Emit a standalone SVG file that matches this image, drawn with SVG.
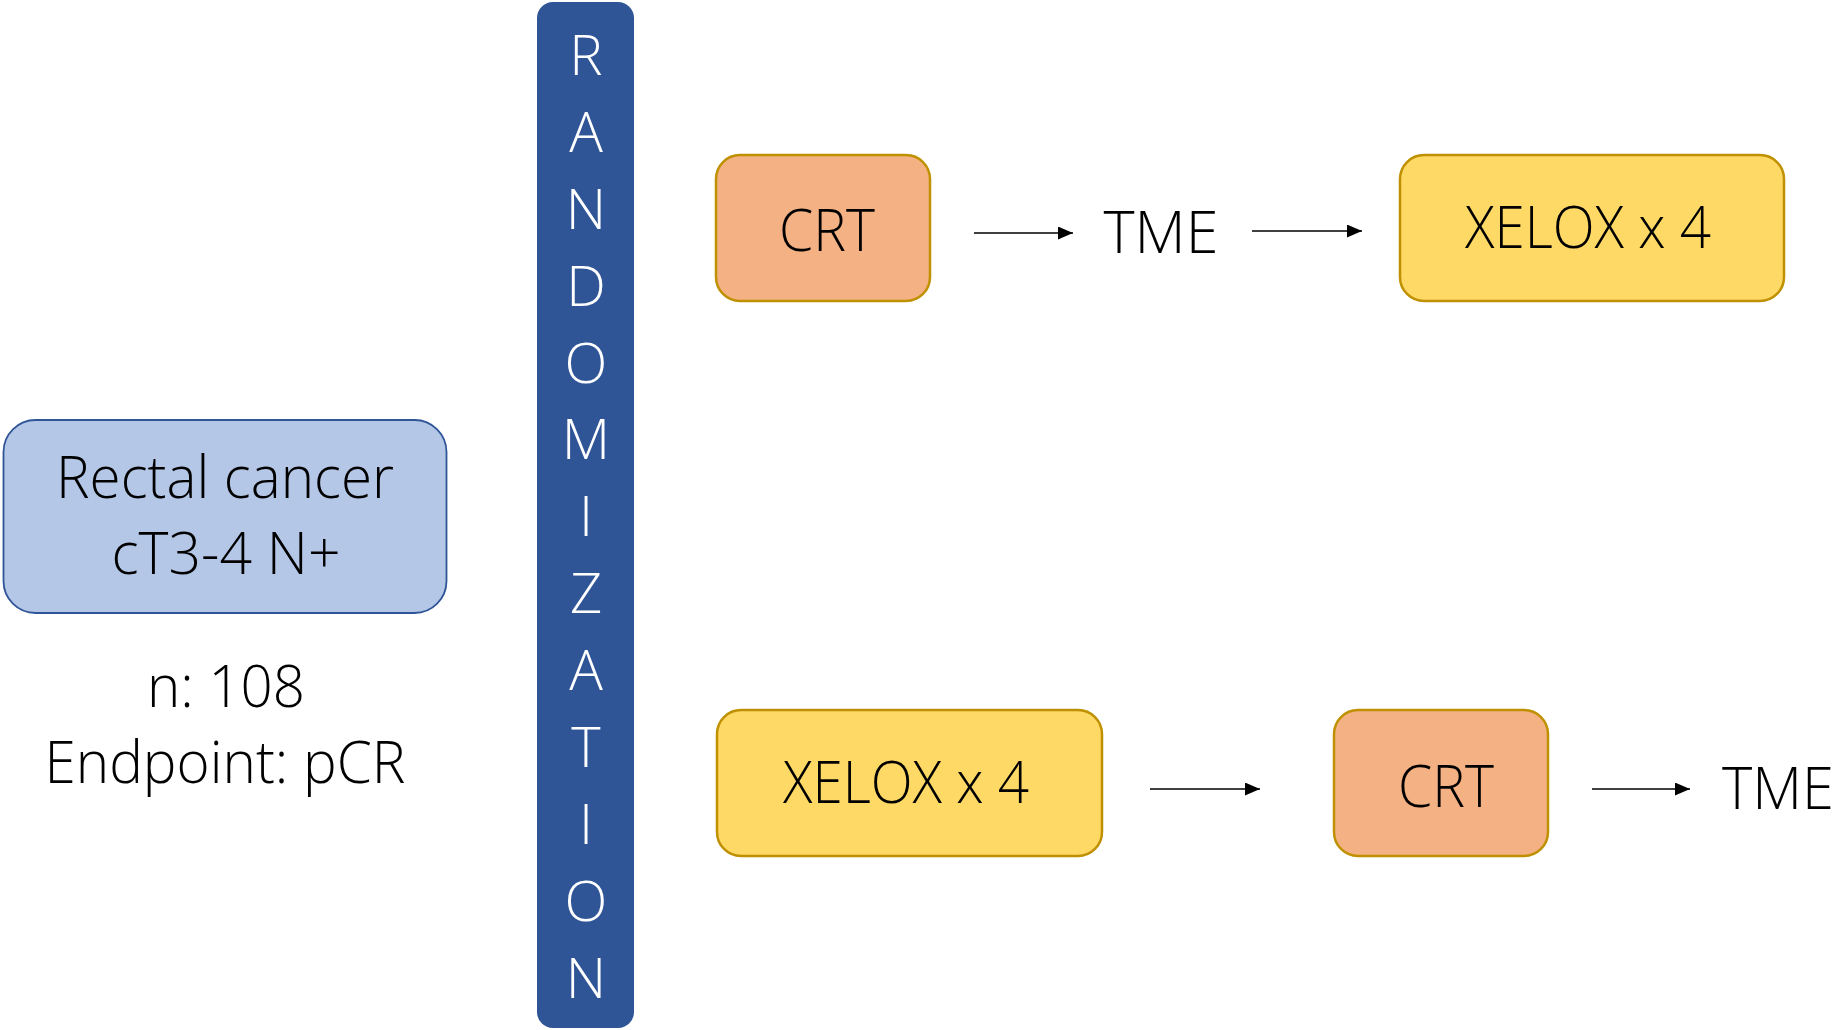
<svg xmlns="http://www.w3.org/2000/svg" width="1838" height="1030" viewBox="0 0 1838 1030">
<defs>
<style>
.t{font-family:"Open Sans","Liberation Sans",sans-serif;font-weight:300;font-size:58px;fill:#000;text-anchor:middle}
.r{font-family:"Open Sans","Liberation Sans",sans-serif;font-weight:300;font-size:56px;fill:#fff;text-anchor:middle}
.orange{fill:#F4B183;stroke:#BF9000;stroke-width:2.5}
.yellow{fill:#FFD966;stroke:#BF9000;stroke-width:2.5}
.conn{stroke:#000;stroke-width:1.6;fill:none;marker-end:url(#ah)}
</style>
<marker id="ah" markerUnits="userSpaceOnUse" markerWidth="16" markerHeight="14" refX="15" refY="6.5" orient="auto">
<path d="M0,0 L15,6.5 L0,13 Z" fill="#000"/>
</marker>
</defs>
<rect width="1838" height="1030" fill="#fff"/>

<g id="population">
<rect x="3.5" y="420" width="443" height="193" rx="32" fill="#B4C7E7" stroke="#2F5597" stroke-width="1.8"/>
<text class="t" x="225" y="498" textLength="338" lengthAdjust="spacingAndGlyphs">Rectal cancer</text>
<text class="t" x="226" y="574" textLength="229" lengthAdjust="spacingAndGlyphs">cT3-4 N+</text>
</g>
<g id="stats">
<text class="t" x="226" y="707" textLength="158" lengthAdjust="spacingAndGlyphs">n: 108</text>
<text class="t" x="225" y="783" textLength="361" lengthAdjust="spacingAndGlyphs">Endpoint: pCR</text>
</g>

<g id="randomization">
<rect x="537" y="2" width="97" height="1026" rx="16" fill="#2F5597"/>
<text class="r" x="586" y="75">R</text>
<text class="r" x="586" y="152">A</text>
<text class="r" x="586" y="229">N</text>
<text class="r" x="586" y="306">D</text>
<text class="r" x="586" y="383">O</text>
<text class="r" x="586" y="459">M</text>
<text class="r" x="586" y="536">I</text>
<text class="r" x="586" y="613">Z</text>
<text class="r" x="586" y="690">A</text>
<text class="r" x="586" y="767">T</text>
<text class="r" x="586" y="844">I</text>
<text class="r" x="586" y="921">O</text>
<text class="r" x="586" y="998">N</text>
</g>

<g id="crt-top">
<rect class="orange" x="716" y="155" width="214" height="146" rx="24"/>
<text class="t" x="827" y="251" textLength="96" lengthAdjust="spacingAndGlyphs">CRT</text>
</g>
<g id="tme-top">
<text class="t" x="1161" y="253" textLength="115" lengthAdjust="spacingAndGlyphs">TME</text>
</g>
<g id="xelox-top">
<rect class="yellow" x="1400" y="155" width="384" height="146" rx="24"/>
<text class="t" x="1588" y="248" textLength="246" lengthAdjust="spacingAndGlyphs">XELOX x 4</text>
</g>

<g id="xelox-bottom">
<rect class="yellow" x="717" y="710" width="385" height="146" rx="24"/>
<text class="t" x="906" y="803" textLength="246" lengthAdjust="spacingAndGlyphs">XELOX x 4</text>
</g>
<g id="crt-bottom">
<rect class="orange" x="1334" y="710" width="214" height="146" rx="24"/>
<text class="t" x="1446" y="807" textLength="96" lengthAdjust="spacingAndGlyphs">CRT</text>
</g>
<g id="tme-bottom">
<text class="t" x="1778" y="809" textLength="112" lengthAdjust="spacingAndGlyphs">TME</text>
</g>

<g id="connectors">
<line class="conn" x1="974" y1="233" x2="1073" y2="233"/>
<line class="conn" x1="1252" y1="231" x2="1362" y2="231"/>
<line class="conn" x1="1150" y1="789" x2="1260" y2="789"/>
<line class="conn" x1="1592" y1="789" x2="1690" y2="789"/>
</g>
</svg>
